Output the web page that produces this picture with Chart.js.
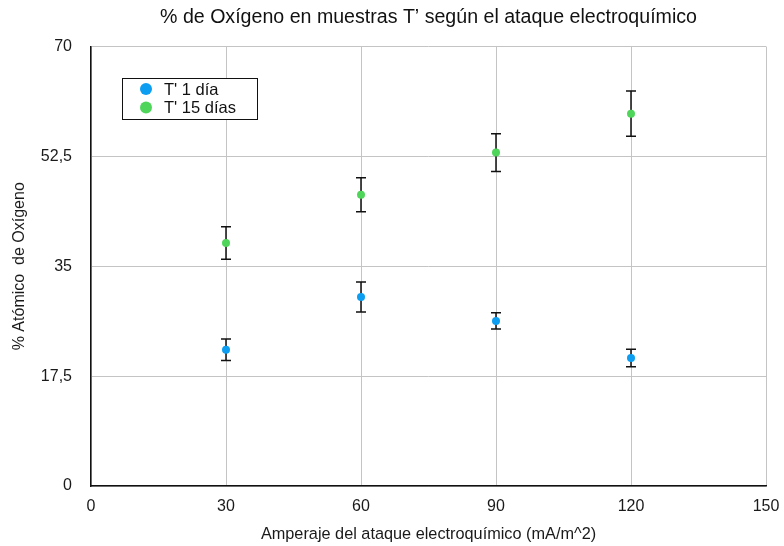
<!DOCTYPE html>
<html>
<head>
<meta charset="utf-8">
<script src="https://cdn.jsdelivr.net/npm/chart.js@4"></script>
<style>
  body { margin: 0; background: #fff; }
</style>
</head>
<body>
<canvas id="myChart" width="784" height="546"></canvas>
<script>
const amperaje = [30, 60, 90, 120];
const t1Dia = [21.7, 30.1, 26.3, 20.4];
const t1Err = [1.7, 2.4, 1.3, 1.4];
const t15Dias = [38.7, 46.4, 53.1, 59.3];
const t15Err = [2.6, 2.7, 3.0, 3.6];
const seriesLabels = ["T' 1 día", "T' 15 días"];

let blueDot = '#0d9ef2';
let greenDot = '#4fd65a';
const fontName = '"Liberation Sans", Arial, sans-serif';

const errorBars = {
    id: 'errorBars',
    beforeDatasetsDraw(chart) {
        const ctx = chart.ctx;
        const x = chart.scales.x;
        const y = chart.scales.y;
        ctx.save();
        ctx.strokeStyle = '#111';
        ctx.lineWidth = 1.5;
        chart.data.datasets.forEach(ds => {
            ds.data.forEach((p, i) => {
                const px = x.getPixelForValue(p.x);
                const top = y.getPixelForValue(p.y + ds.errors[i]);
                const bot = y.getPixelForValue(p.y - ds.errors[i]);
                ctx.beginPath();
                ctx.moveTo(px, top); ctx.lineTo(px, bot);
                ctx.moveTo(px - 5, top); ctx.lineTo(px + 5, top);
                ctx.moveTo(px - 5, bot); ctx.lineTo(px + 5, bot);
                ctx.stroke();
            });
        });
        ctx.restore();
    }
};

// legend box inside the plot, like the original
const boxLegend = {
    id: 'boxLegend',
    afterDraw(chart) {
        const ctx = chart.ctx;
        const left = 122, top = 78, w = 135, h = 41;
        ctx.save();
        ctx.fillStyle = '#fff';
        ctx.fillRect(left, top, w, h);
        ctx.strokeStyle = '#111';
        ctx.lineWidth = 1;
        ctx.strokeRect(left + 0.5, top + 0.5, w, h);
        ctx.font = '16.5px ' + fontName;
        ctx.textBaseline = 'middle';
        chart.data.datasets.forEach((ds, i) => {
            const cy = top + 11 + i * 18.5;
            ctx.fillStyle = ds.backgroundColor;
            ctx.beginPath();
            ctx.arc(left + 24, cy, 6, 0, Math.PI * 2);
            ctx.fill();
            ctx.fillStyle = '#111';
            ctx.fillText(ds.label, left + 42, cy + 1);
        });
        ctx.restore();
    }
};

const data = {
    datasets: [{
        label: seriesLabels[0],
        data: amperaje.map((a, i) => ({ x: a, y: t1Dia[i] })),
        errors: t1Err,
        backgroundColor: blueDot,
        borderWidth: 0,
        pointRadius: 4,
    }, {
        label: seriesLabels[1],
        data: amperaje.map((a, i) => ({ x: a, y: t15Dias[i] })),
        errors: t15Err,
        backgroundColor: greenDot,
        borderWidth: 0,
        pointRadius: 4,
    }]
};

const tickFont = { family: fontName, size: 16 };

const config = {
    type: 'scatter',
    data: data,
    options: {
        responsive: false,
        animation: false,
        layout: { padding: { left: 0, right: 18, top: 0, bottom: 0 } },
        scales: {
            x: {
                min: 0, max: 150,
                afterFit: (scale) => {
                    scale.height = 60;
                    scale.paddingLeft = 0;
                    scale.paddingRight = 0;
                },
                ticks: { stepSize: 30, font: tickFont, color: '#1a1a1a', padding: 11, maxRotation: 0 },
                grid: { color: '#c4c4c4', lineWidth: 1, drawTicks: false },
                border: { color: '#111', width: 1.5 },
                title: {
                    display: true,
                    text: 'Amperaje del ataque electroquímico (mA/m^2)',
                    font: { family: fontName, size: 16.3 },
                    color: '#1a1a1a',
                    padding: { top: 0, bottom: 2 },
                },
            },
            y: {
                min: 0, max: 70,
                afterFit: (scale) => {
                    scale.width = 91;
                    scale.paddingTop = 0;
                    scale.paddingBottom = 0;
                },
                ticks: {
                    stepSize: 17.5, font: tickFont, color: '#1a1a1a', padding: 19,
                    callback: (v) => String(v).replace('.', ','),
                },
                grid: { color: '#c4c4c4', lineWidth: 1, drawTicks: false },
                border: { color: '#111', width: 1.5 },
                title: {
                    display: true,
                    text: '% Atómico  de Oxígeno',
                    font: { family: fontName, size: 16 },
                    color: '#1a1a1a',
                    padding: { top: 10, bottom: 0 },
                },
            },
        },
        plugins: {
            legend: { display: false },
            tooltip: { enabled: false },
            title: {
                display: true,
                fullSize: false,
                text: '% de Oxígeno en muestras T’ según el ataque electroquímico',
                font: { family: fontName, size: 19.6, weight: 'normal' },
                color: '#111',
                padding: { top: 6, bottom: 17 },
            },
        },
    },
    plugins: [errorBars, boxLegend],
};

const myChart = new Chart(document.getElementById('myChart'), config);
</script>
</body>
</html>
